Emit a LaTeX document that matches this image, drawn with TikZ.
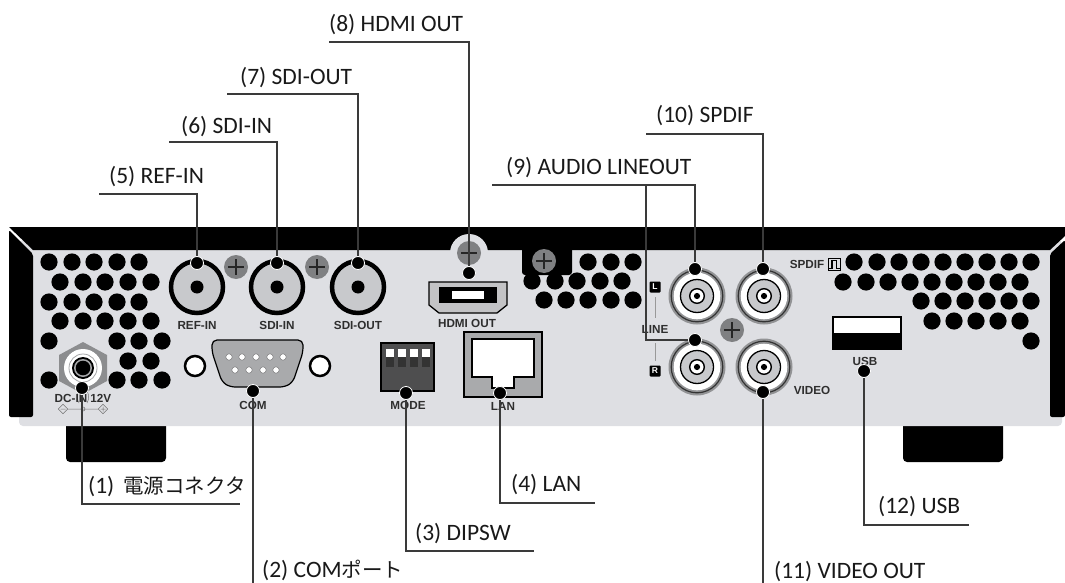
\documentclass[tikz,border=0pt]{standalone}
\usepackage{fontspec}
\setmainfont{Carlito}
\newfontfamily\devfont{Liberation Sans}
\newfontfamily\cjk{Noto Sans CJK JP}
\usetikzlibrary{calc}

\definecolor{panel}{HTML}{DEDFE3}
\definecolor{conn}{HTML}{C8C9CC}
\definecolor{shell}{HTML}{A9AAAC}
\definecolor{screwgray}{HTML}{7F8082}
\definecolor{devtext}{HTML}{2E2E2E}
\definecolor{leadcol}{HTML}{3A3A3A}

\tikzset{
  callout/.style={circle,fill=black,draw=white,line width=0.8pt,inner sep=0pt,minimum size=13pt},
  lead/.style={draw=leadcol,line width=1.1pt,preaction={draw=white,line width=2.2pt}},
  name label/.style={anchor=base west,inner sep=0pt,font=\fontsize{23.5}{26}\selectfont,text=black!90},
  dev label/.style={inner sep=0pt,text=devtext,font=\devfont\bfseries\fontsize{11.7}{12}\selectfont},
  badge/.style={fill=black,rounded corners=1pt,inner sep=0pt,minimum size=11pt,text=white,font=\devfont\bfseries\fontsize{8.5}{9}\selectfont}
}

\newcommand{\holerow}[2]{\foreach \hx in {#2} {\fill[black] (\hx,#1) circle (8.6);}}
\newcommand{\screwat}[2]{
  \fill[screwgray] (#1,#2) circle (12);
  \draw[black!85,line width=1.3pt] (#1-8,#2) -- (#1+8,#2) (#1,#2-8) -- (#1,#2+8);
}
\newcommand{\bncbig}[2]{
  \fill[conn] (#1,#2) circle (26);
  \draw[black,line width=4.5pt] (#1,#2) circle (26);
  \fill[black] (#1,#2) circle (6.5);
}
\newcommand{\bncsmall}[2]{
  \fill[screwgray!85] (#1,#2) circle (28.5);
  \draw[black!80,line width=1.2pt] (#1,#2) circle (25.8);
  \fill[white] (#1,#2) circle (23.3);
  \fill[conn] (#1,#2) circle (16.5);
  \draw[black,line width=1.3pt] (#1,#2) circle (16.5);
  \fill[white] (#1,#2) circle (7.3);
  \draw[black,line width=1.4pt] (#1,#2) circle (7.3);
  \fill[black] (#1,#2) circle (3.1);
}

\begin{document}
\begin{tikzpicture}[x=1pt,y=-1pt]
\useasboundingbox (0,0) rectangle (1065,583);

\fill[black,rounded corners=4] (66,415) rectangle (166,462);
\fill[black,rounded corners=4] (903,415) rectangle (1003,462);
\fill[panel,rounded corners=4] (19,240) rectangle (1062,426);
\fill[black] (9,227) -- (1065,227) -- (1065,236) -- (1050,250) -- (33,250) -- cycle;
\fill[black,rounded corners=2] (9,230) -- (33,254) -- (33,417) -- (9,417) -- cycle;
\fill[black,rounded corners=2] (1065,240) -- (1050,254) -- (1050,417) -- (1065,417) -- cycle;

\holerow{262}{49,72,94,117,139}
\holerow{282}{60,83,105,128,151}
\holerow{302}{49,72,94,117,139}
\holerow{321}{60,83,105,128,151}
\holerow{341}{49,117,139,162}
\holerow{361}{128,151}
\holerow{380}{49,117,139,162}
\fill[black,rounded corners=3] (522,238) rectangle (572,275);
\holerow{262}{588,611,633}
\holerow{281}{532,555,577,600,622}
\holerow{300}{544,566,588,611,633}
\holerow{262}{854,877,899,921,943,965,987,1009,1031}
\holerow{282}{843,866,888,910,932,954,976,998,1020}
\holerow{301}{921,943,965,987,1009,1031}
\holerow{321}{932,954,976,998,1020}
\holerow{341}{1031}

\fill[screwgray!90] (83,342) -- (107,355) -- (107,381) -- (83,394) -- (59,381) -- (59,355) -- cycle;
\fill[white] (83,368) circle (19);
\draw[screwgray!70,line width=0.8pt] (83,368) circle (14);
\fill[black] (83,368) circle (11);
\fill[screwgray!70] (83,368) circle (9);
\fill[black] (83,368) circle (7.3);
\draw[black!55,line width=0.5pt] (58.3,409) -- (63,404.3) -- (67.7,409) -- (63,413.7) -- cycle (60.5,409) -- (65.5,409) (67.7,409) -- (98.3,409) (98.3,409) -- (103,404.3) -- (107.7,409) -- (103,413.7) -- cycle (100.5,409) -- (105.5,409) (103,406.5) -- (103,411.5) (83,409) circle (2) (79,403) arc (150:210:12) (87,403) arc (30:-30:12);

\bncbig{197}{287}
\bncbig{277}{287}
\bncbig{358}{287}
\screwat{236}{267}
\screwat{317}{267}
\fill[panel] (469,253) circle (19);
\screwat{469}{253}
\screwat{544}{261}
\screwat{732}{330}
\bncsmall{697}{296}
\bncsmall{697}{367}
\bncsmall{764}{296}
\bncsmall{764}{367}

\filldraw[fill=white,draw=black,line width=2.5pt] (195,366) circle (10);
\filldraw[fill=white,draw=black,line width=2.5pt] (320,366) circle (10);
\filldraw[fill=shell,draw=black,line width=1.2pt,rounded corners=5] (212,340) -- (303,340) -- (303,352) -- (293,382) -- (285,387) -- (230,387) -- (222,382) -- (212,352) -- cycle;
\foreach \px in {229,242,256,270,283} {\filldraw[fill=white,draw=black!60,line width=0.4pt] (\px,357) circle (3.2);}
\foreach \px in {235,249,263,276} {\filldraw[fill=white,draw=black!60,line width=0.4pt] (\px,370) circle (3.2);}

\filldraw[fill=shell!70,draw=black,line width=1.3pt] (429,282) -- (507,282) -- (507,305) -- (497,313) -- (439,313) -- (429,305) -- cycle;
\fill[black] (439,287) rectangle (497,303);
\fill[white] (452,291) rectangle (484,299);

\filldraw[fill=black!65!panel,draw=black,line width=1.3pt] (381,343) rectangle (434,391);
\foreach \px in {386,398,410,422} {
  \fill[white] (\px,349) rectangle (\px+8,357);
  \fill[black!80] (\px,357) rectangle (\px+8,367);
}

\filldraw[fill=shell,draw=black,line width=1.3pt] (464,332) rectangle (542,397);
\filldraw[fill=white,draw=black,line width=1.3pt] (472,339) -- (534,339) -- (534,377) -- (514,377) -- (514,388) -- (492,388) -- (492,377) -- (472,377) -- cycle;

\fill[black] (832,316) rectangle (902,350);
\fill[white] (834,318) rectangle (900,333);

\draw[black!40,line width=1pt] (655,297) -- (655,318) (655,343) -- (655,361);
\draw[black,line width=0.9pt] (828.5,258.5) rectangle (840,270);
\draw[black,line width=1.3pt] (829,268.5) -- (832,268.5) -- (832,260.5) -- (836.5,260.5) -- (836.5,268.5) -- (840,268.5);

\node[dev label] (Lref) at (197,325) {REF-IN};
\node[dev label] (Lsdiin) at (277,325) {SDI-IN};
\node[dev label] (Lsdiout) at (358,325) {SDI-OUT};
\node[dev label] (Lhdmi) at (467,323) {HDMI OUT};
\node[dev label] (Ldc) at (83,398) {DC-IN 12V};
\node[dev label] (Lcom) at (253,405) {COM};
\node[dev label] (Lmode) at (408,405) {MODE};
\node[dev label] (Llan) at (503,406) {LAN};
\node[dev label] (Lline) at (655,329) {LINE};
\node[dev label] (Lspdif) at (807,264) {SPDIF};
\node[dev label] (Lvideo) at (812,390) {VIDEO};
\node[dev label] (Lusb) at (865,361) {USB};
\node[badge] (Bl) at (655,287) {L};
\node[badge] (Br) at (655,371) {R};

\node[callout] (N1) at (82,388) {};
\node[callout] (N2) at (253,391) {};
\node[callout] (N3) at (406,393) {};
\node[callout] (N4) at (500,393) {};
\node[callout] (N5) at (197,263) {};
\node[callout] (N6) at (277,263) {};
\node[callout] (N7) at (358,263) {};
\node[callout] (N8) at (469,273) {};
\node[callout] (N9) at (695,269) {};
\node[callout] (N9r) at (695,340) {};
\node[callout] (N10) at (763,269) {};
\node[callout] (N11) at (763,392) {};
\node[callout] (N12) at (864,371) {};

\coordinate (E1) at (240,504);
\coordinate (E2) at (253,583);
\coordinate (E3) at (534,551);
\coordinate (E4) at (595,503);
\coordinate (E5) at (99,194);
\coordinate (E6) at (169,142);
\coordinate (E7) at (227,94);
\coordinate (E8) at (329,42);
\coordinate (E9) at (492,185);
\coordinate (C9) at (646,185);
\coordinate (E10) at (646,134);
\coordinate (E11) at (763,583);
\coordinate (E12) at (969,525);

\node[name label] (T1) at (88,493) {(1)\hspace{9pt}{\cjk\fontsize{20.5}{26}\selectfont 電源コネクタ}};
\node[name label] (T2) at (262,577) {(2) COM{\cjk\fontsize{20.5}{26}\selectfont ポート}};
\node[name label] (T3) at (415,540) {(3) DIPSW};
\node[name label] (T4) at (511,491) {(4) LAN};
\node[name label] (T5) at (109,183) {(5) REF-IN};
\node[name label] (T6) at (181,133) {(6) SDI-IN};
\node[name label] (T7) at (240,85) {(7) SDI-OUT};
\node[name label] (T8) at (329,32) {(8) HDMI OUT};
\node[name label] (T9) at (506,175) {(9) AUDIO LINEOUT};
\node[name label] (T10) at (656,123) {(10) SPDIF};
\node[name label] (T11) at (774,578) {(11) VIDEO OUT};
\node[name label] (T12) at (878,513) {(12) USB};

\path[lead] (N1) |- (E1);
\path[lead] (N2) -- (E2);
\path[lead] (N3) |- (E3);
\path[lead] (N4) |- (E4);
\path[lead] (N5) |- (E5);
\path[lead] (N6) |- (E6);
\path[lead] (N7) |- (E7);
\path[lead] (N8) |- (E8);
\path[lead] (N9) |- (E9);
\path[lead] (N9r) -| (C9);
\path[lead] (N10) |- (E10);
\path[lead] (N11) -- (E11);
\path[lead] (N12) |- (E12);
\end{tikzpicture}
\end{document}
